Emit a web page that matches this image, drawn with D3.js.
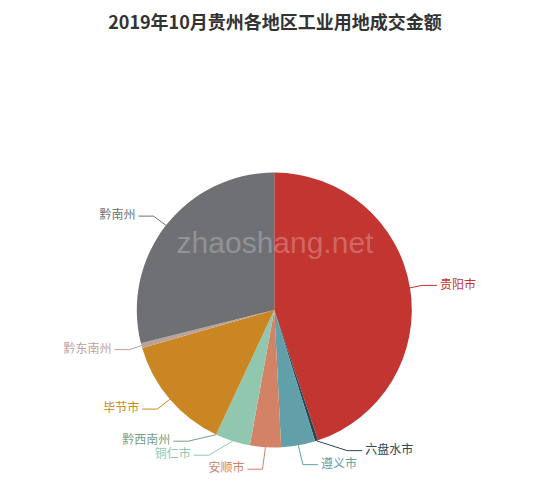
<!DOCTYPE html>
<html>
<head>
<meta charset="utf-8">
<script src="https://cdn.jsdelivr.net/npm/d3@7"></script>
<style>
  body { margin: 0; background: #fff; }
  text { font-family: "Noto Sans CJK SC", "Microsoft YaHei", sans-serif; }
</style>
</head>
<body>
<div id="chart"></div>
<script>
// données (万元)
const regions = ["贵阳市", "六盘水市", "遵义市", "安顺市", "铜仁市", "黔西南州", "毕节市", "黔东南州", "黔南州"];
const amounts = [44860, 360, 4000, 3640, 4080, 30, 13580, 580, 28900];
const colors = ["#c23531", "#2f4554", "#61a0a8", "#d48265", "#91c7ae", "#749f83", "#ca8622", "#bda29a", "#6e7074"];

const width = 550, height = 490;
const cx = 274.3, cy = 310, r = 137.5;
const len = 15, len2 = 15, labelH = 14;

const svg = d3.select("#chart").append("svg")
    .attr("width", width)
    .attr("height", height);

// titre
svg.append("text")
    .attr("x", width / 2)
    .attr("y", 24)
    .attr("text-anchor", "middle")
    .attr("dominant-baseline", "middle")
    .attr("font-size", 18)
    .attr("font-weight", "bold")
    .attr("fill", "#333")
    .text("2019年10月贵州各地区工业用地成交金额");

const pie = d3.pie().sort(null).value(d => d);
const arcs = pie(amounts);
const arc = d3.arc().innerRadius(0).outerRadius(r);

const g = svg.append("g").attr("transform", `translate(${cx},${cy})`);

g.selectAll("path")
    .data(arcs)
    .enter().append("path")
    .attr("d", arc)
    .attr("fill", (d, i) => colors[i]);

// placement des étiquettes (à la manière d'echarts)
const labels = arcs.map((d, i) => {
    const mid = (d.startAngle + d.endAngle) / 2;
    const dx = Math.sin(mid), dy = -Math.cos(mid);
    const x1 = cx + r * dx, y1 = cy + r * dy;
    const x2 = x1 + dx * len, y2 = y1 + dy * len;
    const x3 = x2 + (dx < 0 ? -1 : 1) * len2;
    return {
        i, name: regions[i], color: colors[i],
        x: x3 + (dx < 0 ? -5 : 5), y: y2,
        pts: [[x1, y1], [x2, y2], [x3, y2]],
        left: dx < 0
    };
});

function adjustSide(list, dir) {
    list.sort((a, b) => a.y - b.y);
    const n = list.length;
    function shiftUp(end, delta) {
        for (let j = end; j >= 0; j--) {
            list[j].y -= delta;
            if (j > 0 && list[j].y > list[j - 1].y + labelH) break;
        }
    }
    function shiftDown(start, end, delta) {
        for (let j = start; j < end; j++) {
            list[j].y += delta;
            if (j > start && j + 1 < end && list[j + 1].y > list[j].y + labelH) {
                shiftUp(j, delta / 2);
                return;
            }
        }
        shiftUp(end - 1, delta / 2);
    }
    let lastY = 0;
    for (let i = 0; i < n; i++) {
        const delta = list[i].y - lastY;
        if (delta < 0) shiftDown(i, n, -delta);
        lastY = list[i].y + labelH;
    }
    if (height - lastY < 0) shiftUp(n - 1, lastY - height);

    function changeX(sub, isDown) {
        let lastDX = isDown ? Number.MAX_VALUE : 0;
        sub.forEach(l => {
            const dY = Math.abs(l.y - cy);
            let dX = dY < r + len
                ? Math.sqrt((r + len + len2) ** 2 - dY * dY)
                : Math.abs(l.x - cx);
            if (isDown && dX >= lastDX) dX = lastDX - 10;
            if (!isDown && dX <= lastDX) dX = lastDX + 10;
            l.x = cx + dX * dir;
            lastDX = dX;
        });
    }
    changeX(list.filter(l => l.y < cy), false);
    changeX(list.filter(l => l.y >= cy), true);
}

adjustSide(labels.filter(l => !l.left), 1);
adjustSide(labels.filter(l => l.left), -1);

labels.forEach(l => {
    const p = l.pts;
    const dist = p[1][0] - p[2][0];
    p[2][0] = l.left ? l.x + 3 : l.x - 3;
    p[1][1] = p[2][1] = l.y;
    p[1][0] = p[2][0] + dist;
});

svg.selectAll(".label-line")
    .data(labels)
    .enter().append("polyline")
    .attr("class", "label-line")
    .attr("points", d => d.pts.map(p => p.join(",")).join(" "))
    .attr("fill", "none")
    .attr("stroke", d => d.color)
    .attr("stroke-width", 1);

svg.selectAll(".label")
    .data(labels)
    .enter().append("text")
    .attr("class", "label")
    .attr("x", d => d.x)
    .attr("y", d => d.y)
    .attr("text-anchor", d => d.left ? "end" : "start")
    .attr("dominant-baseline", "middle")
    .attr("font-size", 12)
    .attr("fill", d => d.color)
    .text(d => d.name);

// filigrane
svg.append("text")
    .attr("x", 275)
    .attr("y", 253)
    .attr("text-anchor", "middle")
    .style("font-family", "'Liberation Sans', Arial, sans-serif")
    .attr("font-size", 30)
    .attr("fill", "#fff")
    .attr("fill-opacity", 0.25)
    .text("zhaoshang.net");
</script>
</body>
</html>
